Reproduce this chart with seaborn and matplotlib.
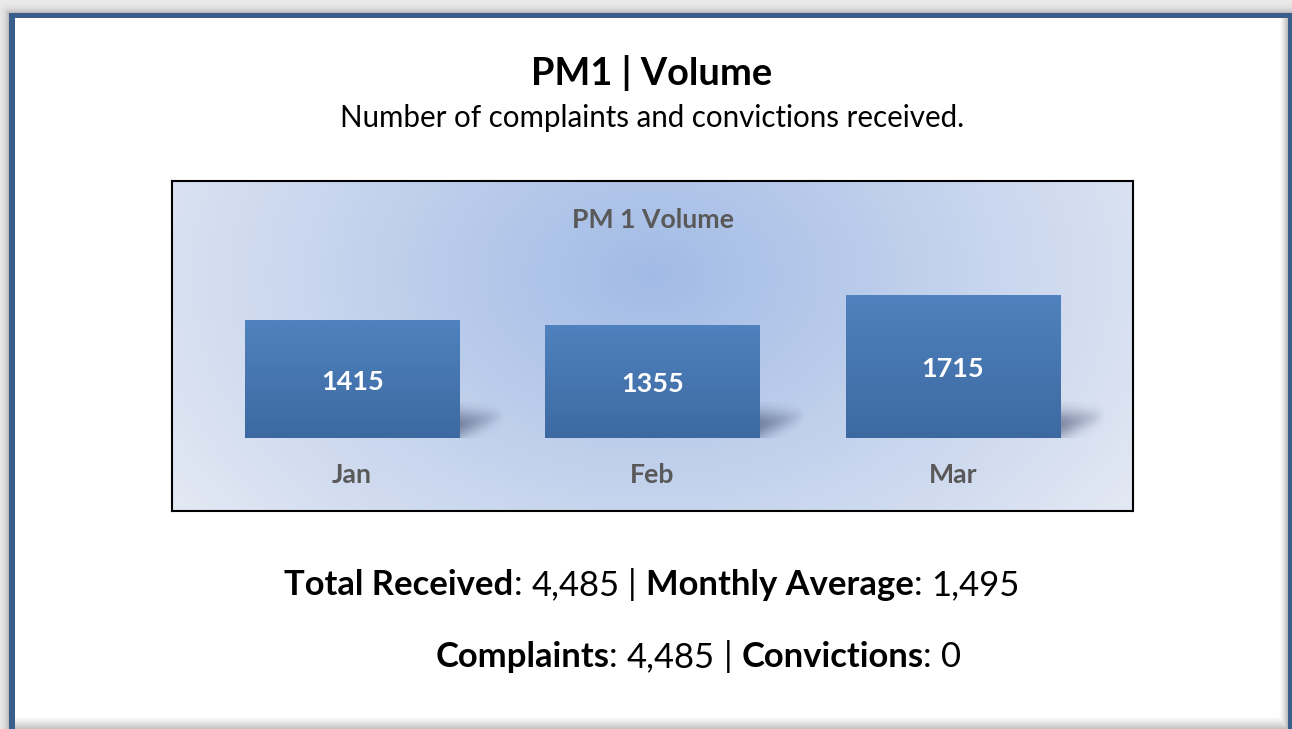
import numpy as np
import pandas as pd
import matplotlib
matplotlib.use("Agg")
import matplotlib.pyplot as plt
import matplotlib.transforms as mtransforms
from matplotlib.patches import Rectangle
import seaborn as sns

# ---------------- data ----------------
months = ["Jan", "Feb", "Mar"]
volumes = [1415, 1355, 1715]
total_received = 4485
monthly_average = 1495
complaints = 4485
convictions = 0

title = "PM1 | Volume"
subtitle = "Number of complaints and convictions received."
chart_title = "PM 1 Volume"

# ---------------- setup ----------------
W, H = 1292, 729
sns.set_theme(style="white")
FONT = ['Lato', 'DejaVu Sans']
plt.rcParams['font.family'] = FONT

fig = plt.figure(figsize=(W / 100, H / 100), dpi=100)
fig.patch.set_facecolor("white")
renderer = fig.canvas.get_renderer()

# ------------- page background (frame + shadow) -------------
bg = fig.add_axes([0, 0, 1, 1], zorder=0)
bg.set_xlim(0, W)
bg.set_ylim(H, 0)
bg.axis('off')

yy, xx = np.mgrid[0:H, 0:W] + 0.5
fx0, fy0 = 9, 13
d = np.hypot(np.maximum(fx0 - xx, 0), np.maximum(fy0 - yy, 0))
outside = (xx < fx0) | (yy < fy0)
shade = np.where(outside, 0.22 * np.exp(-d / 4.0) + 0.07, 0.0)
inside = ~outside
bshade = np.clip((yy - 716) / 13.0, 0, 1) ** 1.3 * 0.24
rshade = np.clip((xx - 1279) / 9.0, 0, 1) ** 1.5 * 0.28
shade = shade + np.where(inside, np.maximum(bshade, rshade), 0)
g = 1 - shade
bg.imshow(np.dstack([g, g, g]), extent=[0, W, H, 0], aspect='auto', zorder=0,
          interpolation='bilinear')
frame_blue = "#3a5e8c"
bg.add_patch(Rectangle((9, 13), W - 9, 5, color=frame_blue, lw=0, zorder=2))
bg.add_patch(Rectangle((9, 13), 6, H - 13, color=frame_blue, lw=0, zorder=2))
bg.add_patch(Rectangle((1288, 13), 4, H - 13, color=frame_blue, lw=0, zorder=2))


def text_width(s, size, weight, family=FONT):
    t = bg.text(0, 0, s, fontsize=size, fontweight=weight, family=family)
    w = t.get_window_extent(renderer).width
    t.remove()
    return w


def fit_size(s, weight, target, size0=20):
    return size0 * target / text_width(s, size0, weight)


# titles
ts = fit_size(title, 'bold', 241)
bg.text(652, 85, title, fontsize=ts, fontweight='bold', ha='center', va='baseline',
        color='black', zorder=3)
ss = fit_size(subtitle, 'normal', 625)
bg.text(652, 127, subtitle, fontsize=ss, ha='center', va='baseline', color='black', zorder=3)


# rich text lines
def fmt(n):
    return f"{n:,}"


line1 = [("Total Received", 'bold', False), (":", 'normal', False),
         (fmt(total_received), 'normal', True), ("|", 'normal', True),
         ("Monthly Average", 'bold', True), (":", 'normal', False),
         (fmt(monthly_average), 'normal', True)]
line2 = [("Complaints", 'bold', False), (":", 'normal', False),
         (fmt(complaints), 'normal', True), ("|", 'normal', True),
         ("Convictions", 'bold', True), (":", 'normal', False),
         (fmt(convictions), 'normal', True)]


def line_width(pieces, size):
    sp = text_width("x x", size, 'normal') - text_width("xx", size, 'normal')
    tot = 0
    widths = []
    for s, wt, spc in pieces:
        if spc:
            tot += sp
        w = text_width(s, size, wt)
        widths.append((tot, w))
        tot += w
    return tot, widths


def rich_line(pieces, cx, y, size):
    tot, widths = line_width(pieces, size)
    x0 = cx - tot / 2
    for (s, wt, spc), (off, w) in zip(pieces, widths):
        bg.text(x0 + off, y, s, fontsize=size, fontweight=wt, ha='left', va='baseline',
                color='black', zorder=3)


s0 = 20
lw0, _ = line_width(line1, s0)
ls = s0 * 736 / lw0
rich_line(line1, 652, 595, ls)
rich_line(line2, 698, 667, ls)

# ---------------- chart ----------------
ax = fig.add_axes([172 / W, 1 - 511 / H, 961 / W, 330 / H], zorder=1)
df = pd.DataFrame({"month": months, "volume": volumes})
sns.barplot(data=df, x="month", y="volume", color="#4a7ab8", width=0.713,
            saturation=1, ax=ax, zorder=2)

XL = (-0.6, 2.6)
YL = (-870, 3090)

# radial gradient background
Y, X = np.mgrid[181:511, 172:1133] + 0.5
cx, cy, rx, ry = 652, 275, 560, 400
r = np.sqrt(((X - cx) / rx) ** 2 + ((Y - cy) / ry) ** 2)
t = np.clip(r, 0, 1) ** 1.0
c_center = np.array([162, 187, 230]) / 255
c_edge = np.array([225, 231, 243]) / 255
bgimg = c_center[None, None, :] * (1 - t[..., None]) + c_edge[None, None, :] * t[..., None]
ax.imshow(bgimg, extent=[XL[0], XL[1], YL[0], YL[1]], origin='upper', aspect='auto',
          zorder=0, interpolation='bilinear')

# bar gradients, shadows and labels
top_c = np.array([79, 130, 190]) / 255
bot_c = np.array([61, 105, 161]) / 255
vv = np.linspace(0, 1, 100)[:, None]
bar_grad = top_c[None, None, :] * (1 - vv[..., None]) + bot_c[None, None, :] * vv[..., None]
bar_grad = np.repeat(bar_grad, 2, axis=1)

px_x = (XL[1] - XL[0]) / 961.0
px_y = (YL[1] - YL[0]) / 330.0

su, sv = np.meshgrid(np.linspace(0, 1, 80), np.linspace(0, 1, 60))
centre = 0.38 + 0.25 * su
half = 0.40 * (1 - 0.55 * su)
alpha = 0.6 * (1 - su) ** 0.85 * np.exp(-((sv - centre) / half) ** 2)
shadow = np.zeros(su.shape + (4,))
shadow[..., 0] = 70 / 255
shadow[..., 1] = 82 / 255
shadow[..., 2] = 115 / 255
shadow[..., 3] = alpha

lab_size = fit_size("1415", 'bold', 58) * 1.08
for p, v in zip(ax.patches, volumes):
    x0, w, h = p.get_x(), p.get_width(), p.get_height()
    p.set_facecolor('none')
    p.set_edgecolor('none')
    ax.imshow(shadow, extent=[x0 + w, x0 + w + 45 * px_x, 0, 36 * px_y], origin='lower',
              aspect='auto', zorder=1.5, interpolation='bilinear')
    ax.imshow(bar_grad, extent=[x0, x0 + w, 0, h], origin='upper', aspect='auto',
              zorder=3, interpolation='bilinear')
    ax.text(x0 + w / 2, h / 2, f"{v}", color='white', fontweight='bold',
            fontsize=lab_size, ha='center', va='center_baseline', zorder=4)

cat_size = fit_size("PM 1 Volume", 'bold', 162)
trans = mtransforms.blended_transform_factory(ax.transData, ax.transAxes)
for i, m in enumerate(months):
    ax.text(i, 1 - (483 - 181) / 330, m, transform=trans, color='#595959',
            fontweight='bold', fontsize=cat_size, ha='center', va='baseline', zorder=4)
ax.text(0.5, 1 - (228 - 181) / 330, chart_title, transform=ax.transAxes, color='#595959',
        fontweight='bold', fontsize=cat_size, ha='center', va='baseline', zorder=4)

ax.set_xlim(*XL)
ax.set_ylim(*YL)
ax.set_xticks([])
ax.set_yticks([])
ax.set_xlabel("")
ax.set_ylabel("")
for sp in ax.spines.values():
    sp.set_visible(True)
    sp.set_color("black")
    sp.set_linewidth(1.5)

fig.savefig("out.png", dpi=100)
